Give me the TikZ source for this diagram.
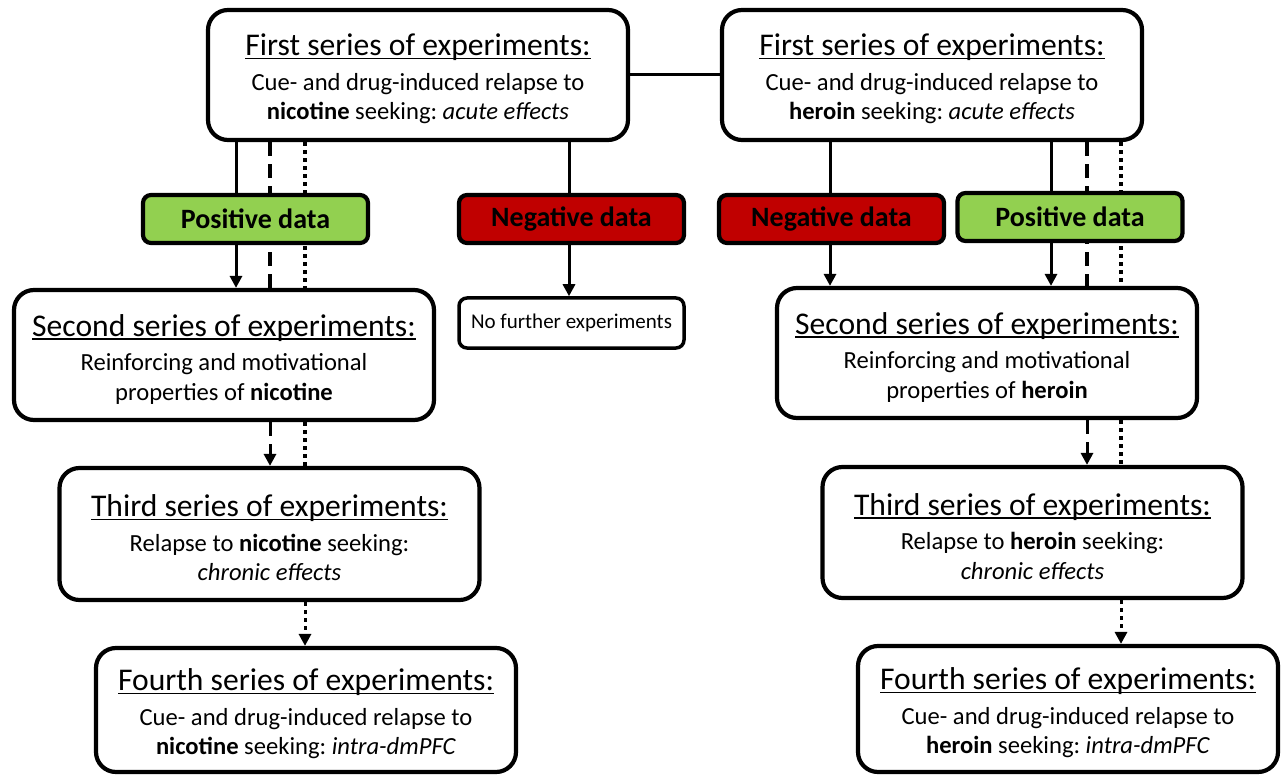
\documentclass[tikz,border=0pt]{standalone}
\usepackage{fontspec}
\setmainfont{Carlito}
\usetikzlibrary{arrows.meta,backgrounds}
\definecolor{posgreen}{HTML}{92D050}
\definecolor{negred}{HTML}{C00000}
\frenchspacing
\newsavebox{\hdbox}
\newcommand{\hd}[1]{{\fontsize{31.6}{33}\selectfont\sbox{\hdbox}{#1}\rule{0pt}{30pt}\rlap{\rule[-3.5pt]{\wd\hdbox}{1.8pt}}\usebox{\hdbox}}\\[5pt]}
\begin{document}
\begin{tikzpicture}[x=1pt,y=-1pt,
  series/.style={draw,line width=4.2pt,rounded corners=20pt,fill=white,minimum width=420pt,minimum height=130pt,inner sep=0pt,align=center,font=\fontsize{24.6}{29.5}\selectfont},
  databox/.style={draw,line width=4.2pt,rounded corners=8pt,minimum width=225pt,minimum height=48pt,inner sep=0pt,font=\fontsize{28}{30}\selectfont\bfseries},
  posbox/.style={databox,fill=posgreen},
  negbox/.style={databox,fill=negred},
  link/.style={line width=3pt},
  arr/.style={line width=3pt,-{Triangle[length=12pt,width=12pt]}},
  dashline/.style={line width=3.5pt,dash pattern=on 14pt off 8pt},
  dotline/.style={line width=3.5pt,dash pattern=on 4pt off 4pt}
]
\useasboundingbox (0,0) rectangle (1284,775);

% boxes
\node[series] (L1) at (418,75) {\hd{First series of experiments:}Cue- and drug-induced relapse to\\\textbf{nicotine} seeking: \textit{acute effects}};
\node[series] (R1) at (932,75) {\hd{First series of experiments:}Cue- and drug-induced relapse to\\\textbf{heroin} seeking: \textit{acute effects}};
\node[posbox] (PL) at (255.5,219) {Positive data};
\node[negbox] (NL) at (571.5,219) {Negative data};
\node[negbox] (NR) at (831.5,219) {Negative data};
\node[posbox] (PR) at (1070,217) {Positive data};
\node[draw,line width=3.5pt,rounded corners=8pt,minimum width=225pt,minimum height=50pt,inner sep=0pt,font=\fontsize{21}{24}\selectfont] (NF) at (571.5,323) {No further experiments};
\node[series] (L2) at (224,355) {\hd{Second series of experiments:}Reinforcing and motivational\\properties of \textbf{nicotine}};
\node[series] (R2) at (987,353) {\hd{Second series of experiments:}Reinforcing and motivational\\properties of \textbf{heroin}};
\node[series,minimum height=132pt] (L3) at (269.5,534) {\hd{Third series of experiments:}Relapse to \textbf{nicotine} seeking:\\\textit{chronic effects}};
\node[series,minimum height=131pt] (R3) at (1032.5,532.5) {\hd{Third series of experiments:}Relapse to \textbf{heroin} seeking:\\\textit{chronic effects}};
\node[series,minimum height=124pt] (L4) at (306,710) {\hd{Fourth series of experiments:}Cue- and drug-induced relapse to\\\textbf{nicotine} seeking: \textit{intra-dmPFC}};
\node[series,minimum height=126pt] (R4) at (1068,709) {\hd{Fourth series of experiments:}Cue- and drug-induced relapse to\\\textbf{heroin} seeking: \textit{intra-dmPFC}};

% connectors
\draw[link] (L1.east) -- (R1.west);
\begin{scope}[on background layer]
  \fill[white] (0,0) rectangle (1284,775);
  \draw[dashline] (L1.south -| 270,0) -- (L2.north -| 270,0);
  \draw[dotline] (L1.south -| 305,0) -- (L2.north -| 305,0);
  \draw[dashline] (R1.south -| 1087,0) -- (R2.north -| 1087,0);
  \draw[dotline] (R1.south -| 1121,0) -- (R2.north -| 1121,0);
\end{scope}
% left
\draw[link] (L1.south -| 236,0) -- (PL.north -| 236,0);
\draw[arr] (PL.south -| 236,0) -- (L2.north -| 236,0);
\draw[dashline,arr] (L2.south -| 270,0) -- (L3.north -| 270,0);
\draw[dotline] (L2.south -| 305,0) -- (L3.north -| 305,0);
\draw[dotline,arr] (L3.south -| 305,0) -- (L4.north -| 305,0);
\draw[link] (L1.south -| 569,0) -- (NL.north -| 569,0);
\draw[arr] (NL.south -| 569,0) -- (NF.north -| 569,0);
% right
\draw[link] (R1.south -| 830,0) -- (NR.north -| 830,0);
\draw[arr] (NR.south -| 830,0) -- (R2.north -| 830,0);
\draw[link] (R1.south -| 1051,0) -- (PR.north -| 1051,0);
\draw[arr] (PR.south -| 1051,0) -- (R2.north -| 1051,0);
\draw[dashline,arr] (R2.south -| 1087,0) -- (R3.north -| 1087,0);
\draw[dotline] (R2.south -| 1121,0) -- (R3.north -| 1121,0);
\draw[dotline,arr] (R3.south -| 1121,0) -- (R4.north -| 1121,0);
\end{tikzpicture}
\end{document}
